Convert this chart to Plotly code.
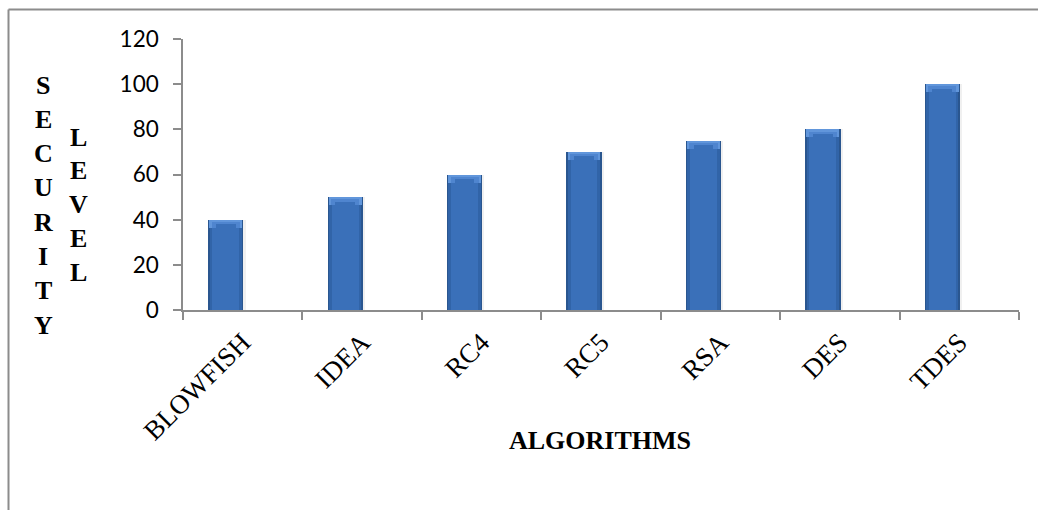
import plotly.graph_objects as go

algorithms = ["BLOWFISH", "IDEA", "RC4", "RC5", "RSA", "DES", "TDES"]
security_level = [40, 50, 60, 70, 75, 80, 100]
y_ticks = [0, 20, 40, 60, 80, 100, 120]

W, H = 1038, 510
L, R, T, B = 183, 19, 39, 200
PW, PH = W - L - R, H - T - B

CENTER = -0.142   # bars sit slightly left of each category centre
BAR_W = 0.295

fig = go.Figure()

def layer(width, color, base=None, y=None, shift=0.0):
    fig.add_trace(go.Bar(
        x=algorithms,
        y=y if y is not None else security_level,
        base=base,
        width=width,
        offset=CENTER + shift - width / 2,
        marker=dict(color=color, line=dict(width=0)),
        hoverinfo="skip",
        showlegend=False,
    ))

# soft drop shadow
layer(BAR_W + 0.012, "rgba(0,0,0,0.06)", shift=0.012)
# bevelled body: dark edges towards a lighter middle
layer(BAR_W, "#2a568f")
layer(BAR_W - 0.025, "#3164a8")
layer(BAR_W - 0.07, "#3a70b9")
# highlight along the top edge
cap = [3.6] * len(security_level)
cap_base = [v - c for v, c in zip(security_level, cap)]
layer(BAR_W - 0.02, "#6196db", base=cap_base, y=cap)
layer(BAR_W - 0.06, "#4f85cf", base=cap_base, y=[c - 1.0 for c in cap])
layer(BAR_W - 0.13, "#3a70b9", base=cap_base, y=[c - 2.0 for c in cap])

fig.update_layout(
    width=W, height=H,
    margin=dict(l=L, r=R, t=T, b=B),
    paper_bgcolor="white", plot_bgcolor="white",
    barmode="overlay",
    bargap=0,
    showlegend=False,
)

fig.update_xaxes(
    type="category",
    range=[-0.5, len(algorithms) - 0.5],
    showline=True, linecolor="#8c8c8c", linewidth=1.5,
    ticks="outside", tickson="boundaries", ticklen=8, tickcolor="#8c8c8c", tickwidth=1.5,
    tickangle=-45,
    tickfont=dict(family="Liberation Serif, Times New Roman, serif", size=27, color="black"),
    ticklabelstandoff=4,
    showgrid=False, zeroline=False,
)
fig.update_yaxes(
    range=[0, 120],
    tickvals=y_ticks,
    showline=True, linecolor="#8c8c8c", linewidth=1.5,
    ticks="outside", ticklen=8, tickcolor="#8c8c8c", tickwidth=1.5,
    tickfont=dict(family="Lato, Carlito, sans-serif", size=22.5, color="black"),
    ticklabelstandoff=10,
    showgrid=False, zeroline=False,
)

def px_to_paper(px, py):
    return (px - L) / PW, (H - B - py) / PH

title_font = dict(family="Liberation Serif, Times New Roman, serif", size=26, color="black")

# vertical, letter-by-letter axis title
def stacked(word, cx, cy0, step):
    for i, ch in enumerate(word):
        x, y = px_to_paper(cx, cy0 + i * step)
        fig.add_annotation(xref="paper", yref="paper", x=x, y=y, text=f"<b>{ch}</b>",
                           showarrow=False, font=title_font, xanchor="center", yanchor="middle")

stacked("SECURITY", 43, 85, 34.3)
stacked("LEVEL", 78, 137, 33.8)

ax, ay = px_to_paper(600, 440)
fig.add_annotation(xref="paper", yref="paper", x=ax, y=ay, text="<b>ALGORITHMS</b>",
                   showarrow=False, font=title_font, xanchor="center", yanchor="middle")

# chart-area frame (left and top edges)
x0, y0 = px_to_paper(8.5, 9.5)
x1, _ = px_to_paper(W + 5, 9.5)
_, y1 = px_to_paper(8.5, H + 5)
fig.add_shape(type="line", xref="paper", yref="paper", x0=x0, y0=y0, x1=x1, y1=y0,
              line=dict(color="#8c8c8c", width=2))
fig.add_shape(type="line", xref="paper", yref="paper", x0=x0, y0=y0, x1=x0, y1=y1,
              line=dict(color="#8c8c8c", width=2))

fig.write_html("out.html")
